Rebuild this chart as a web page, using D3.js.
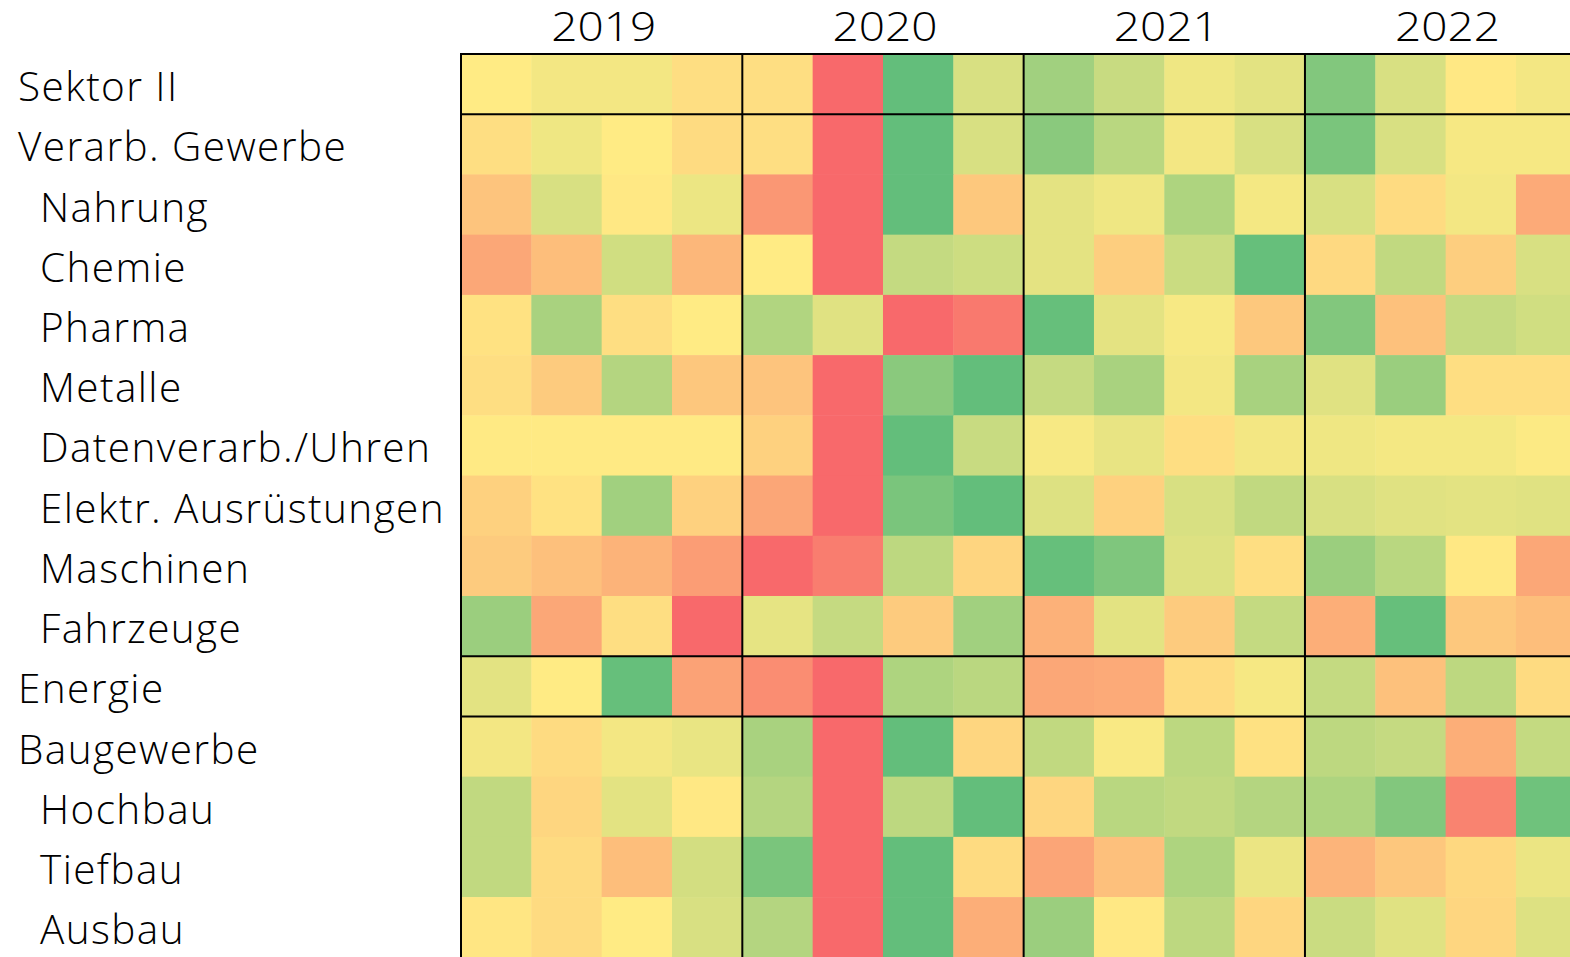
<!DOCTYPE html>
<html>
  <head>
    <meta charset="utf-8">
    <title>Heatmap Sektor II</title>
    <script src="https://d3js.org/d3.v7.min.js"></script>
    <style>
      body { margin: 0; background: #fff; overflow: hidden; }
      .rowlabel { font-family: "Open Sans", sans-serif; font-size: 40.5px; font-weight: 300; letter-spacing: 1.4px; fill: #000; }
      .year { font-family: "Open Sans", sans-serif; font-size: 40px; font-weight: 300; fill: #000; }
    </style>
  </head>
  <body>
    <svg width="1570" height="957"></svg>

    <script>
      // categories
      let years = ["2019", "2020", "2021", "2022"];
      let quarters = ["Q1", "Q2", "Q3", "Q4"];
      let sectors = ["Sektor II", "Verarb. Gewerbe", "Nahrung", "Chemie", "Pharma", "Metalle",
        "Datenverarb./Uhren", "Elektr. Ausrüstungen", "Maschinen", "Fahrzeuge",
        "Energie", "Baugewerbe", "Hochbau", "Tiefbau", "Ausbau"];
      // rows that are sub-branches (indented)
      let subRows = ["Nahrung", "Chemie", "Pharma", "Metalle", "Datenverarb./Uhren",
        "Elektr. Ausrüstungen", "Maschinen", "Fahrzeuge", "Hochbau", "Tiefbau", "Ausbau"];
      // separators drawn below these rows
      let groupEnds = ["Sektor II", "Fahrzeuge", "Energie"];

      // relative score per quarter (-1 = worst, 0 = neutral, 1 = best)
      let sektorII      = [0.00, 0.08, 0.08, -0.10, -0.10, -1.00, 1.00, 0.25, 0.60, 0.35, 0.10, 0.18, 0.80, 0.25, -0.02, 0.08];
      let verarb        = [-0.10, 0.10, 0.00, -0.12, -0.10, -1.00, 1.00, 0.25, 0.75, 0.45, 0.08, 0.25, 0.85, 0.25, 0.06, 0.06];
      let nahrung       = [-0.30, 0.25, -0.02, 0.12, -0.65, -1.00, 1.00, -0.27, 0.17, 0.10, 0.52, 0.07, 0.25, -0.12, 0.08, -0.50];
      let chemie        = [-0.52, -0.35, 0.30, -0.40, 0.00, -1.00, 0.38, 0.32, 0.17, -0.22, 0.34, 0.98, -0.14, 0.40, -0.22, 0.25];
      let pharma        = [-0.07, 0.55, -0.10, 0.00, 0.50, 0.20, -1.00, -0.88, 0.98, 0.17, 0.05, -0.27, 0.80, -0.32, 0.37, 0.30];
      let metalle       = [-0.10, -0.25, 0.48, -0.28, -0.30, -1.00, 0.75, 1.00, 0.37, 0.55, 0.08, 0.56, 0.20, 0.65, -0.10, -0.10];
      let datenverarb   = [-0.01, -0.01, -0.01, -0.01, -0.20, -1.00, 1.00, 0.35, 0.05, 0.15, -0.10, 0.08, 0.10, 0.07, 0.07, 0.02];
      let elektr        = [-0.20, -0.07, 0.60, -0.20, -0.53, -1.00, 0.85, 1.00, 0.22, -0.20, 0.25, 0.40, 0.25, 0.20, 0.18, 0.20];
      let maschinen     = [-0.25, -0.33, -0.43, -0.60, -1.00, -0.85, 0.42, -0.17, 0.98, 0.82, 0.22, -0.10, 0.64, 0.45, -0.02, -0.52];
      let fahrzeuge     = [0.64, -0.52, -0.10, -1.00, 0.16, 0.37, -0.25, 0.60, -0.45, 0.18, -0.25, 0.38, -0.47, 0.98, -0.27, -0.35];
      let energie       = [0.18, 0.00, 0.98, -0.56, -0.72, -1.00, 0.52, 0.44, -0.52, -0.50, -0.12, 0.06, 0.38, -0.32, 0.42, -0.12];
      let baugewerbe    = [0.08, -0.12, 0.08, 0.14, 0.55, -1.00, 1.00, -0.16, 0.40, 0.04, 0.43, -0.08, 0.42, 0.37, -0.47, 0.38];
      let hochbau       = [0.40, -0.16, 0.18, -0.02, 0.48, -1.00, 0.42, 1.00, -0.16, 0.45, 0.40, 0.48, 0.52, 0.80, -0.80, 0.92];
      let tiefbau       = [0.40, -0.12, -0.35, 0.28, 0.85, -1.00, 1.00, -0.12, -0.54, -0.33, 0.52, 0.13, -0.42, -0.28, -0.15, 0.13];
      let ausbau        = [-0.04, -0.12, 0.00, 0.25, 0.48, -1.00, 1.00, -0.47, 0.64, -0.02, 0.42, -0.16, 0.34, 0.20, -0.16, 0.22];

      let seriesValues = [sektorII, verarb, nahrung, chemie, pharma, metalle, datenverarb, elektr,
        maschinen, fahrzeuge, energie, baugewerbe, hochbau, tiefbau, ausbau];

      let periods = [];
      years.forEach(function(y) { quarters.forEach(function(q) { periods.push(y + "-" + q); }); });

      let cells = [];
      sectors.forEach(function(s, i) {
        periods.forEach(function(p, j) {
          cells.push({ sector: s, period: p, value: seriesValues[i][j] });
        });
      });

      let gridLeft = 461, gridTop = 54, colW = 70.33, rowH = 60.22;

      let xScale = d3.scaleBand()
        .domain(periods)
        .range([gridLeft, gridLeft + colW * periods.length]);

      let yScale = d3.scaleBand()
        .domain(sectors)
        .range([gridTop, gridTop + rowH * sectors.length]);

      let yearScale = d3.scaleBand()
        .domain(years)
        .range([gridLeft, gridLeft + colW * periods.length]);

      // Excel-like 3 colour scale
      let color = d3.scaleLinear()
        .domain([-1, 0, 1])
        .range(["#F8696B", "#FFEB84", "#63BE7B"])
        .clamp(true);

      let svg = d3.select("svg");

      // cells
      svg.selectAll(".cell")
        .data(cells)
        .enter().append("rect")
          .attr("class", "cell")
          .attr("x", function(d) { return xScale(d.period); })
          .attr("y", function(d) { return yScale(d.sector); })
          .attr("width", xScale.bandwidth() + 0.5)
          .attr("height", yScale.bandwidth() + 0.5)
          .attr("fill", function(d) { return color(d.value); });

      // row labels
      svg.selectAll(".rowlabel")
        .data(sectors)
        .enter().append("text")
          .attr("class", "rowlabel")
          .attr("x", function(d) { return subRows.indexOf(d) >= 0 ? 40 : 18; })
          .attr("y", function(d) { return yScale(d) + yScale.bandwidth() / 2 + 17; })
          .text(function(d) { return d; });

      // year labels
      svg.selectAll(".year")
        .data(years)
        .enter().append("text")
          .attr("class", "year")
          .attr("text-anchor", "middle")
          .attr("x", function(d) { return yearScale(d) + yearScale.bandwidth() / 2 + 2; })
          .attr("y", 41)
          .attr("textLength", 105)
          .attr("lengthAdjust", "spacingAndGlyphs")
          .text(function(d) { return d; });

      // separator lines
      let x1 = gridLeft, x2 = gridLeft + colW * periods.length;
      let y1 = gridTop, y2 = gridTop + rowH * sectors.length;

      svg.append("line")
        .attr("x1", x1 - 1).attr("x2", x2).attr("y1", y1).attr("y2", y1)
        .attr("stroke", "#000").attr("stroke-width", 2);

      svg.selectAll(".hsep")
        .data(groupEnds)
        .enter().append("line")
          .attr("class", "hsep")
          .attr("x1", x1).attr("x2", x2)
          .attr("y1", function(d) { return yScale(d) + yScale.bandwidth(); })
          .attr("y2", function(d) { return yScale(d) + yScale.bandwidth(); })
          .attr("stroke", "#000").attr("stroke-width", 2);

      svg.selectAll(".vsep")
        .data(years)
        .enter().append("line")
          .attr("class", "vsep")
          .attr("x1", function(d) { return yearScale(d); })
          .attr("x2", function(d) { return yearScale(d); })
          .attr("y1", y1).attr("y2", y2)
          .attr("stroke", "#000").attr("stroke-width", 2);
    </script>
  </body>
</html>
